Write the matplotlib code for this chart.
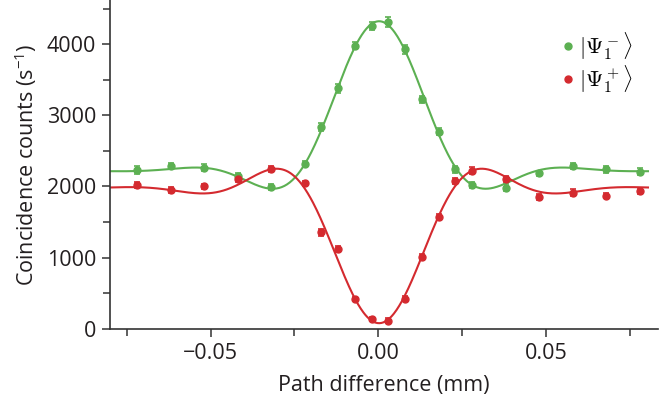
import numpy as np
import matplotlib
matplotlib.use("Agg")
import matplotlib.pyplot as plt
from matplotlib.ticker import MultipleLocator, FuncFormatter
from matplotlib.font_manager import FontProperties

plt.rcParams['font.family'] = ['Open Sans', 'DejaVu Sans']
plt.rcParams['mathtext.fontset'] = 'custom'
plt.rcParams['mathtext.rm'] = 'Open Sans'

# ---- data ----
path_mm = [-0.072, -0.062, -0.052, -0.042, -0.032, -0.022, -0.017, -0.012,
           -0.007, -0.002, 0.003, 0.008, 0.013, 0.018, 0.023, 0.028,
           0.038, 0.048, 0.058, 0.068, 0.078]

counts_minus = [2231, 2287, 2263, 2147, 1997, 2313, 2839, 3377, 3975, 4256,
                4312, 3928, 3223, 2768, 2240, 2020, 1985, 2184, 2292, 2240, 2207]
err_minus = [50, 45, 50, 45, 45, 40, 55, 60, 50, 60, 65, 65, 50, 50, 45, 40,
             50, 40, 45, 45, 50]

counts_plus = [2020, 1950, 2006, 2100, 2245, 2044, 1356, 1118, 421, 140,
               117, 421, 1006, 1576, 2081, 2222, 2105, 1848, 1913, 1871, 1941]
err_plus = [45, 45, 35, 40, 45, 40, 45, 40, 30, 30, 30, 35, 45, 40, 40, 45,
            45, 40, 45, 35, 40]

labels = [r'$|\Psi_1^-\rangle$', r'$|\Psi_1^+\rangle$']
colors = ['#5cb052', '#d42a2f']


# damped sinc fit: C + A*sinc(u)*exp(-(u/d)^2), u = (x-x0)/w
def fit_damped_sinc(x, y):
    best = None
    for x0 in np.linspace(-0.003, 0.003, 25):
        for w in np.linspace(0.018, 0.028, 41):
            for d in np.linspace(1.0, 6.0, 26):
                u = (x - x0) / w
                g = np.sinc(u) * np.exp(-(u / d) ** 2)
                M = np.column_stack([np.ones_like(x), g])
                coef, *_ = np.linalg.lstsq(M, y, rcond=None)
                r = np.sum((M @ coef - y) ** 2)
                if best is None or r < best[0]:
                    best = (r, x0, w, d, coef)
    _, x0, w, d, coef = best

    def f(xx):
        u = (xx - x0) / w
        return coef[0] + coef[1] * np.sinc(u) * np.exp(-(u / d) ** 2)
    return f


fig = plt.figure(figsize=(6.6, 4.03), dpi=100)
ax = fig.add_axes([0.167, 0.184, 0.83, 0.816])

x = np.array(path_mm)
x_fine = np.linspace(-0.08, 0.0805, 600)
for y, e, lab, c in [(counts_minus, err_minus, labels[0], colors[0]),
                     (counts_plus, err_plus, labels[1], colors[1])]:
    y = np.array(y, dtype=float)
    f = fit_damped_sinc(x, y)
    ax.plot(x_fine, f(x_fine), color=c, lw=1.5, zorder=2)
    ax.errorbar(x, y, yerr=e, fmt='o', color=c, ms=5, capsize=2.5,
                elinewidth=1.2, capthick=1.2, label=lab, zorder=3)

ax.set_xlim(-0.08, 0.0835)
ax.set_ylim(0, 4620)

ax.xaxis.set_major_locator(MultipleLocator(0.05))
ax.xaxis.set_minor_locator(MultipleLocator(0.025))
ax.yaxis.set_major_locator(MultipleLocator(1000))
ax.yaxis.set_minor_locator(MultipleLocator(500))
ax.xaxis.set_major_formatter(FuncFormatter(lambda v, p: f"{v:.2f}".replace('-', '\u2212')))

for s in ['top', 'right']:
    ax.spines[s].set_visible(False)
for s in ['left', 'bottom']:
    ax.spines[s].set_color('#333333')
    ax.spines[s].set_linewidth(1.2)
ax.tick_params(which='both', direction='out', color='#333333', width=1.1,
               labelsize=15.5, labelcolor='#231f20')
ax.tick_params(which='major', length=6, pad=4)
ax.tick_params(which='minor', length=5)

ax.set_xlabel('Path difference (mm)', fontsize=15.5, color='#231f20', labelpad=8)
ax.set_ylabel('Coincidence counts (s$^{\u22121}$)', fontsize=15.5, color='#231f20', labelpad=6)

leg_font = FontProperties(size=16, math_fontfamily='cm')
handles, labs = ax.get_legend_handles_labels()
ax.legend([h[0] for h in handles], labs, loc='upper right', bbox_to_anchor=(0.99, 0.97),
          frameon=False, prop=leg_font, handlelength=0.4, handletextpad=0.3,
          labelspacing=0.05, markerscale=1.0)

fig.savefig('out.png', dpi=100)
